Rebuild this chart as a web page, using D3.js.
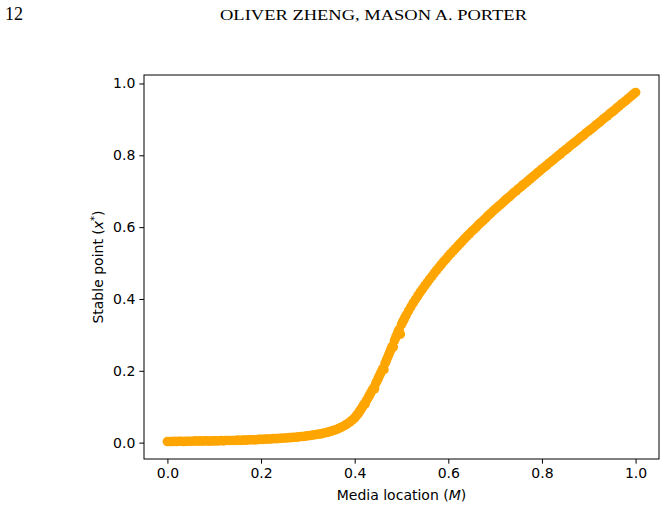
<!DOCTYPE html>
<html>
<head>
<meta charset="utf-8">
<script src="https://cdn.jsdelivr.net/npm/d3@7.9.0/dist/d3.min.js"></script>
<style>
  html, body { margin: 0; padding: 0; background: #fff; }
  svg { display: block; }
</style>
</head>
<body>
<svg id="chart" width="667" height="509"></svg>
<script>
// ========== Data ==========

// Media location M (sampled parameter values, finer around the transition)
const mediaLocations = [
  0.000, 0.005, 0.010, 0.015, 0.020, 0.025, 0.030, 0.035, 0.040, 0.045,
  0.050, 0.055, 0.060, 0.065, 0.070, 0.075, 0.080, 0.085, 0.090, 0.095,
  0.100, 0.105, 0.110, 0.115, 0.120, 0.125, 0.130, 0.135, 0.140, 0.145,
  0.150, 0.155, 0.160, 0.165, 0.170, 0.175, 0.180, 0.185, 0.190, 0.195,
  0.200, 0.205, 0.210, 0.215, 0.220, 0.225, 0.230, 0.235, 0.240, 0.245,
  0.250, 0.255, 0.260, 0.265, 0.270, 0.275, 0.280, 0.285, 0.290, 0.295,
  0.300, 0.305, 0.310, 0.315, 0.320, 0.325, 0.330, 0.335, 0.340, 0.345,
  0.350, 0.355, 0.360, 0.365, 0.370, 0.375, 0.380, 0.385, 0.390, 0.395,
  0.4000, 0.4025, 0.4050, 0.4075, 0.4100, 0.4125, 0.4150, 0.4175, 0.4200, 0.4225,
  0.4250, 0.4275, 0.4300, 0.4325, 0.4350, 0.4375, 0.4400, 0.4425, 0.4450, 0.4475,
  0.4500, 0.4525, 0.4550, 0.4575, 0.4600, 0.4625, 0.4650, 0.4675, 0.4700, 0.4725,
  0.4750, 0.4775, 0.4800, 0.4825, 0.4850, 0.4875, 0.4900, 0.4925, 0.4950, 0.4975,
  0.5000, 0.5025, 0.5050, 0.5075,
  0.510, 0.515, 0.520, 0.525, 0.530, 0.535, 0.540, 0.545,
  0.550, 0.555, 0.560, 0.565, 0.570, 0.575, 0.580, 0.585, 0.590, 0.595,
  0.600, 0.605, 0.610, 0.615, 0.620, 0.625, 0.630, 0.635, 0.640, 0.645,
  0.650, 0.655, 0.660, 0.665, 0.670, 0.675, 0.680, 0.685, 0.690, 0.695,
  0.700, 0.705, 0.710, 0.715, 0.720, 0.725, 0.730, 0.735, 0.740, 0.745,
  0.750, 0.755, 0.760, 0.765, 0.770, 0.775, 0.780, 0.785, 0.790, 0.795,
  0.800, 0.805, 0.810, 0.815, 0.820, 0.825, 0.830, 0.835, 0.840, 0.845,
  0.850, 0.855, 0.860, 0.865, 0.870, 0.875, 0.880, 0.885, 0.890, 0.895,
  0.900, 0.905, 0.910, 0.915, 0.920, 0.925, 0.930, 0.935, 0.940, 0.945,
  0.950, 0.955, 0.960, 0.965, 0.970, 0.975, 0.980, 0.985, 0.990, 0.995,
  1.000
];

// Stable point x* (one per media location)
const stablePoints = [
  0.003, 0.003, 0.003, 0.004, 0.003, 0.004, 0.004, 0.003, 0.004, 0.004,
  0.004, 0.004, 0.005, 0.004, 0.005, 0.004, 0.005, 0.005, 0.004, 0.005,
  0.005, 0.005, 0.005, 0.006, 0.005, 0.006, 0.006, 0.006, 0.006, 0.006,
  0.007, 0.006, 0.007, 0.007, 0.007, 0.008, 0.008, 0.008, 0.008, 0.009,
  0.009, 0.009, 0.010, 0.010, 0.010, 0.011, 0.011, 0.011, 0.012, 0.012,
  0.013, 0.013, 0.014, 0.014, 0.015, 0.015, 0.016, 0.017, 0.017, 0.018,
  0.019, 0.020, 0.021, 0.022, 0.023, 0.024, 0.025, 0.027, 0.028, 0.030,
  0.032, 0.034, 0.036, 0.039, 0.042, 0.045, 0.049, 0.053, 0.058, 0.063,
  0.069, 0.073, 0.077, 0.081, 0.086, 0.091, 0.096, 0.101, 0.107, 0.108,
  0.117, 0.122, 0.128, 0.134, 0.140, 0.146, 0.152, 0.150, 0.165, 0.171,
  0.178, 0.185, 0.192, 0.199, 0.206, 0.203, 0.221, 0.228, 0.236, 0.244,
  0.252, 0.260, 0.268, 0.266, 0.284, 0.292, 0.300, 0.308, 0.315, 0.302,
  0.329, 0.336, 0.342, 0.349,
  0.355, 0.367, 0.378, 0.389, 0.399, 0.409, 0.419, 0.428,
  0.437, 0.446, 0.455, 0.463, 0.472, 0.480, 0.488, 0.496, 0.504, 0.511,
  0.519, 0.526, 0.533, 0.540, 0.547, 0.554, 0.561, 0.568, 0.575, 0.581,
  0.588, 0.594, 0.600, 0.607, 0.613, 0.619, 0.625, 0.632, 0.638, 0.644,
  0.650, 0.656, 0.661, 0.667, 0.673, 0.679, 0.684, 0.690, 0.696, 0.701,
  0.707, 0.712, 0.718, 0.723, 0.729, 0.734, 0.740, 0.745, 0.751, 0.756,
  0.762, 0.767, 0.772, 0.778, 0.783, 0.788, 0.794, 0.799, 0.804, 0.810,
  0.815, 0.820, 0.826, 0.831, 0.836, 0.841, 0.847, 0.852, 0.857, 0.863,
  0.868, 0.873, 0.878, 0.884, 0.889, 0.894, 0.900, 0.905, 0.910, 0.916,
  0.921, 0.926, 0.932, 0.937, 0.943, 0.948, 0.953, 0.959, 0.964, 0.970,
  0.975
];

const xTicks = [0.0, 0.2, 0.4, 0.6, 0.8, 1.0];
const yTicks = [0.0, 0.2, 0.4, 0.6, 0.8, 1.0];

const pageNumber = '12';
const runningHead = 'OLIVER ZHENG, MASON A. PORTER';

// ========== Layout ==========

const svg = d3.select('#chart');
const plot = { left: 144, right: 659, top: 75, bottom: 459 };
const tickFont = 'DejaVu Sans, sans-serif';
const fontSize = 14;

// matplotlib-style 5% margins around the data
const xExtent = d3.extent(mediaLocations);
const yExtent = d3.extent(stablePoints);
const xPad = (xExtent[1] - xExtent[0]) * 0.05;
const yPad = (yExtent[1] - yExtent[0]) * 0.05;

const x = d3.scaleLinear()
  .domain([xExtent[0] - xPad, xExtent[1] + xPad])
  .range([plot.left, plot.right]);

const y = d3.scaleLinear()
  .domain([yExtent[0] - yPad, yExtent[1] + yPad])
  .range([plot.bottom, plot.top]);

// ========== Page header ==========

svg.append('text')
  .attr('x', 5)
  .attr('y', 20)
  .attr('font-family', 'Liberation Serif, serif')
  .attr('font-size', 18)
  .text(pageNumber);

svg.append('text')
  .attr('x', 220)
  .attr('y', 20)
  .attr('font-family', 'Liberation Serif, serif')
  .attr('font-size', 15)
  .attr('textLength', 307)
  .attr('lengthAdjust', 'spacingAndGlyphs')
  .text(runningHead);

// ========== Scatter points ==========

svg.append('g')
  .selectAll('circle')
  .data(mediaLocations.map((m, i) => ({ m, s: stablePoints[i] })))
  .join('circle')
  .attr('cx', (d) => x(d.m))
  .attr('cy', (d) => y(d.s))
  .attr('r', 4.8)
  .attr('fill', '#ffa500');

// ========== Axes ==========

const xAxis = d3.axisBottom(x)
  .tickValues(xTicks)
  .tickFormat(d3.format('.1f'))
  .tickSize(4.7)
  .tickPadding(4);

const yAxis = d3.axisLeft(y)
  .tickValues(yTicks)
  .tickFormat(d3.format('.1f'))
  .tickSize(4.7)
  .tickPadding(4);

const gx = svg.append('g')
  .attr('transform', `translate(0,${plot.bottom})`)
  .call(xAxis);

const gy = svg.append('g')
  .attr('transform', `translate(${plot.left},0)`)
  .call(yAxis);

[gx, gy].forEach((g) => {
  g.select('.domain').remove();
  g.selectAll('.tick line').attr('stroke', '#000').attr('stroke-width', 1);
  g.selectAll('.tick text')
    .attr('fill', '#000')
    .attr('font-family', tickFont)
    .attr('font-size', fontSize);
});

// frame around the plot area
svg.append('rect')
  .attr('x', plot.left)
  .attr('y', plot.top)
  .attr('width', plot.right - plot.left)
  .attr('height', plot.bottom - plot.top)
  .attr('fill', 'none')
  .attr('stroke', '#000')
  .attr('stroke-width', 1);

// ========== Axis labels ==========

const xLabel = svg.append('text')
  .attr('x', (plot.left + plot.right) / 2)
  .attr('y', 500)
  .attr('text-anchor', 'middle')
  .attr('font-family', tickFont)
  .attr('font-size', fontSize);
xLabel.append('tspan').text('Media location (');
xLabel.append('tspan').attr('font-style', 'italic').text('M');
xLabel.append('tspan').text(')');

const yLabel = svg.append('text')
  .attr('transform', `translate(103,${(plot.top + plot.bottom) / 2}) rotate(-90)`)
  .attr('text-anchor', 'middle')
  .attr('font-family', tickFont)
  .attr('font-size', fontSize);
yLabel.append('tspan').text('Stable point (');
yLabel.append('tspan').attr('font-style', 'italic').text('x');
yLabel.append('tspan').attr('font-size', 10).attr('dy', -5).text('*');
yLabel.append('tspan').attr('dy', 5).text(')');
</script>
</body>
</html>
